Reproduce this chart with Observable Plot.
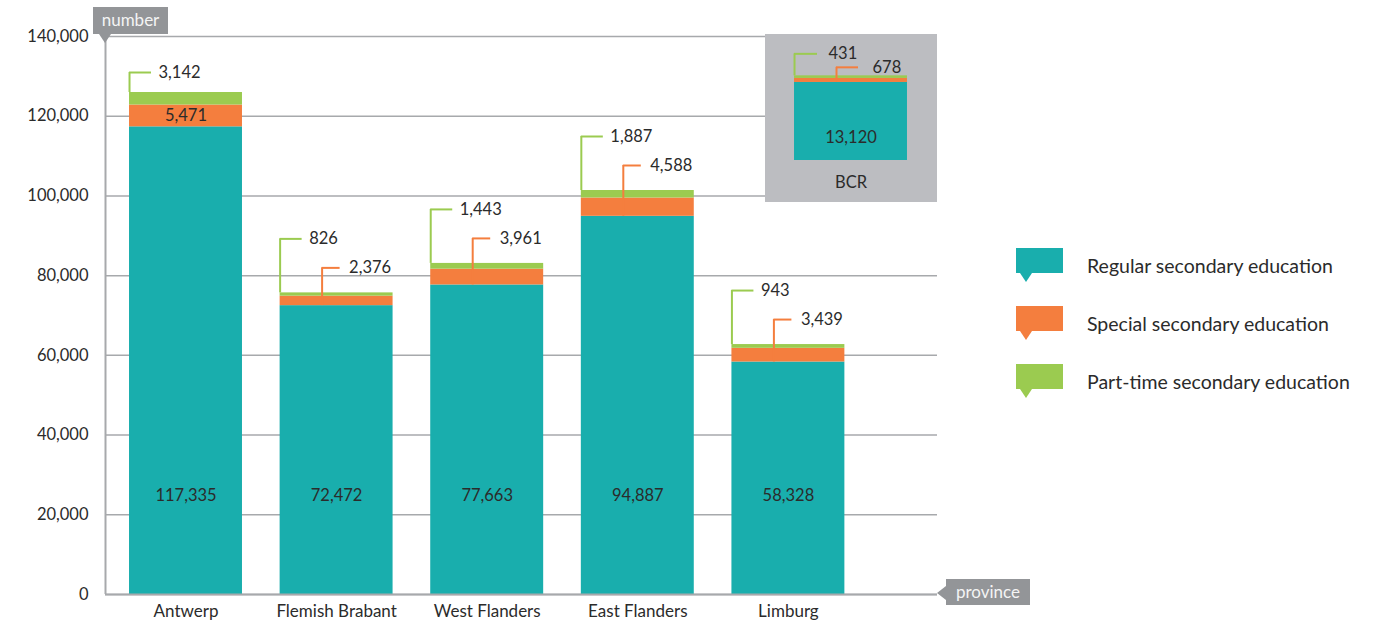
<!DOCTYPE html>
<html><head><meta charset="utf-8">
<script src="https://cdn.jsdelivr.net/npm/d3@7"></script>
<script src="https://cdn.jsdelivr.net/npm/@observablehq/plot@0.6"></script>
<style>
body{margin:0;background:#fff;font-family:Lato,"Open Sans",sans-serif;}
#wrap{position:relative;width:1386px;height:626px;overflow:hidden;}
#wrap > *{position:absolute;}
.tag{background:#939598;color:#f4f4f4;font-size:17px;line-height:26px;text-align:center;}
</style></head><body><div id="wrap"></div>
<script>
// ---- data ----
const provinces = ["Antwerp", "Flemish Brabant", "West Flanders", "East Flanders", "Limburg"];
const regular   = [117335, 72472, 77663, 94887, 58328];
const special   = [5471, 2376, 3961, 4588, 3439];
const partTime  = [3142, 826, 1443, 1887, 943];
const bcrName = ["BCR"];
const bcrRegular = [13120];
const bcrSpecial = [678];
const bcrPartTime = [431];
const seriesNames = ["Regular secondary education", "Special secondary education", "Part-time secondary education"];
const yTicks = [0, 20000, 40000, 60000, 80000, 100000, 120000, 140000];
const yLabel = "number";
const xLabel = "province";

// ---- style ----
const colors = ["#19aead", "#f47e3e", "#9bcb50"];
const txt = "#2b2b2b";
const gridC = "#a7a9ac";
const fmt = d3.format(",");
const FONT = "Lato, 'Open Sans', sans-serif";

function buildRows(names, reg, spe, prt) {
  return names.map((name, i) => ({
    i, name, regular: reg[i], special: spe[i], partTime: prt[i],
    top1: reg[i], top2: reg[i] + spe[i], total: reg[i] + spe[i] + prt[i]
  }));
}
function segments(rows) {
  const out = [];
  for (const r of rows) {
    out.push({i: r.i, s: 0, y1: 0, y2: r.top1});
    out.push({i: r.i, s: 1, y1: r.top1, y2: r.top2});
    out.push({i: r.i, s: 2, y1: r.top2, y2: r.total});
  }
  return out;
}

const wrap = document.getElementById("wrap");
const HALF = 0.375;            // half bar width in band units
const STEP = 150.6;            // px per category
const px = v => v / STEP;      // px -> x units

// ---------------- main chart ----------------
{
  const W = 1386, H = 626, mT = 36, mB = 32, mL = 105, mR = 1386 - 937;
  const yMax = 140000;
  const k = yMax / (H - mT - mB);   // units per px
  const rows = buildRows(provinces, regular, special, partTime);
  const inside = r => r.special / k > 20;

  const orangeOut = rows.filter(r => !inside(r)).map(r => ({
    ...r, xv: r.i - px(14.5), yTop: r.total + 25 * k
  }));
  const orangeIn = rows.filter(r => inside(r));
  const green = rows.map(r => ({
    ...r, xv: r.i - HALF, yTop: r.total + (inside(r) ? 20 : 54) * k
  }));

  const chart = Plot.plot({
    width: W, height: H, marginTop: mT, marginBottom: mB, marginLeft: mL, marginRight: mR,
    style: {fontFamily: FONT, color: txt, background: "transparent", overflow: "visible"},
    x: {domain: [-(80.5 / STEP), (937 - 185.5) / STEP], label: null},
    y: {domain: [0, yMax], label: null},
    marks: [
      Plot.gridY(yTicks, {stroke: gridC, strokeOpacity: 1, strokeWidth: 1.5}),
      Plot.axisY({ticks: yTicks, tickFormat: fmt, tickSize: 0, tickPadding: 17, fontSize: 16.5, label: null}),
      Plot.axisX({ticks: rows.map(r => r.i), tickFormat: i => provinces[i], tickSize: 0, tickPadding: 10, fontSize: 17, label: null}),
      Plot.rectY(segments(rows), {x1: d => d.i - HALF, x2: d => d.i + HALF, y1: "y1", y2: "y2", fill: d => colors[d.s]}),
      Plot.ruleX([-(80.5 / STEP)], {y1: 0, y2: yMax, stroke: gridC, strokeWidth: 2}),
      Plot.ruleY([0], {stroke: gridC, strokeWidth: 2}),
      // regular labels
      Plot.text(rows, {x: "i", text: d => fmt(d.regular), frameAnchor: "bottom", dy: -94, fontSize: 16.5, fill: txt}),
      // special labels inside
      Plot.text(orangeIn, {x: "i", y: d => (d.top1 + d.top2) / 2, text: d => fmt(d.special), fontSize: 16.5, fill: txt}),
      // special callouts
      Plot.ruleX(orangeOut, {x: "xv", y1: "top1", y2: "yTop", stroke: colors[1], strokeWidth: 2}),
      Plot.ruleY(orangeOut, {y: "yTop", x1: "xv", x2: d => d.xv + px(18), stroke: colors[1], strokeWidth: 2}),
      Plot.text(orangeOut, {x: d => d.xv + px(27), y: "yTop", text: d => fmt(d.special), textAnchor: "start", fontSize: 16.5, fill: txt}),
      // part-time callouts
      Plot.ruleX(green, {x: "xv", y1: "total", y2: "yTop", stroke: colors[2], strokeWidth: 2}),
      Plot.ruleY(green, {y: "yTop", x1: "xv", x2: d => d.xv + px(22), stroke: colors[2], strokeWidth: 2}),
      Plot.text(green, {x: d => d.xv + px(29), y: "yTop", text: d => fmt(d.partTime), textAnchor: "start", fontSize: 16.5, fill: txt})
    ]
  });
  chart.style.left = "0px"; chart.style.top = "0px";
  wrap.appendChild(chart);
}

// ---------------- BCR inset ----------------
{
  const W = 172, H = 168, mT = 7, mB = 42;
  const yMax = 20000;
  const k = yMax / (H - mT - mB);
  const rows = buildRows(bcrName, bcrRegular, bcrSpecial, bcrPartTime);
  const orangeOut = rows.map(r => ({...r, xv: r.i - px(14.5), yTop: r.total + 8.5 * k}));
  const green = rows.map(r => ({...r, xv: r.i - HALF, yTop: r.total + 22 * k}));
  const inset = Plot.plot({
    width: W, height: H, marginTop: mT, marginBottom: mB, marginLeft: 0, marginRight: 0,
    style: {fontFamily: FONT, color: txt, background: "#bcbdc1", overflow: "visible"},
    x: {domain: [-85.5 / STEP, (172 - 85.5) / STEP], label: null},
    y: {domain: [0, yMax], label: null, axis: null},
    marks: [
      Plot.axisX({ticks: [0], tickFormat: i => bcrName[i], tickSize: 0, tickPadding: 16, fontSize: 16.5, label: null}),
      Plot.rectY(segments(rows), {x1: d => d.i - HALF, x2: d => d.i + HALF, y1: "y1", y2: "y2", fill: d => colors[d.s]}),
      Plot.text(rows, {x: "i", text: d => fmt(d.regular), frameAnchor: "bottom", dy: -18, fontSize: 16.5, fill: txt}),
      Plot.ruleX(orangeOut, {x: "xv", y1: "top1", y2: "yTop", stroke: colors[1], strokeWidth: 2}),
      Plot.ruleY(orangeOut, {y: "yTop", x1: "xv", x2: d => d.xv + px(22), stroke: colors[1], strokeWidth: 2}),
      Plot.text(orangeOut, {x: d => d.xv + px(36), y: "yTop", text: d => fmt(d.special), textAnchor: "start", fontSize: 16.5, fill: txt}),
      Plot.ruleX(green, {x: "xv", y1: "total", y2: "yTop", stroke: colors[2], strokeWidth: 2}),
      Plot.ruleY(green, {y: "yTop", x1: "xv", x2: d => d.xv + px(23), stroke: colors[2], strokeWidth: 2}),
      Plot.text(green, {x: d => d.xv + px(34), y: "yTop", text: d => fmt(d.partTime), textAnchor: "start", fontSize: 16.5, fill: txt})
    ]
  });
  inset.style.left = "765px"; inset.style.top = "34px";
  wrap.appendChild(inset);
}

// ---------------- axis tags ----------------
{
  const t1 = document.createElement("div");
  t1.className = "tag"; t1.textContent = yLabel;
  Object.assign(t1.style, {left: "93px", top: "7px", width: "75px", height: "27px"});
  wrap.appendChild(t1);
  const t2 = document.createElement("div");
  t2.className = "tag"; t2.textContent = xLabel;
  Object.assign(t2.style, {left: "946px", top: "579px", width: "84px", height: "26px"});
  wrap.appendChild(t2);
  const s = d3.create("svg").attr("width", 1386).attr("height", 626).style("left", "0px").style("top", "0px").style("pointer-events", "none");
  s.append("path").attr("d", "M99,34 L111,34 L105,43 Z").attr("fill", "#939598");
  s.append("path").attr("d", "M946,586 L946,600 L937,593 Z").attr("fill", "#939598");
  wrap.appendChild(s.node());
}

// ---------------- legend ----------------
{
  const s = d3.create("svg").attr("width", 386).attr("height", 200).style("left", "1000px").style("top", "240px");
  seriesNames.forEach((name, j) => {
    const y0 = 8 + j * 58;
    const g = s.append("g");
    g.append("rect").attr("x", 16).attr("y", y0).attr("width", 47).attr("height", 25).attr("fill", colors[j]);
    g.append("path").attr("d", `M20,${y0 + 25} L32,${y0 + 25} L26,${y0 + 34} Z`).attr("fill", colors[j]);
    g.append("text").attr("x", 87).attr("y", y0 + 18).attr("dy", "0.35em")
      .attr("font-family", FONT).attr("font-size", 19.5).attr("fill", txt).text(name);
  });
  wrap.appendChild(s.node());
}
</script></body></html>
